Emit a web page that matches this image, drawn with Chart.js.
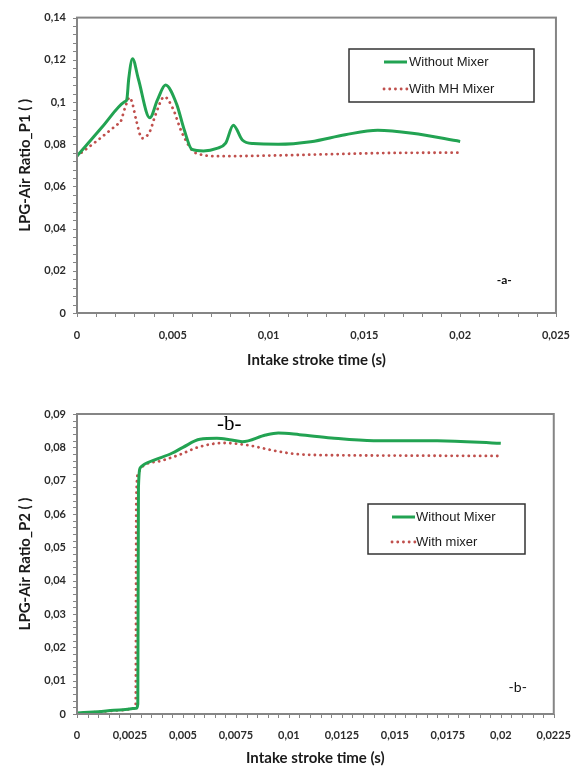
<!DOCTYPE html>
<html><head><meta charset="utf-8">
<script src="https://cdn.jsdelivr.net/npm/chart.js@4.4.1/dist/chart.umd.min.js"></script>
<style>
html,body{margin:0;padding:0;background:#fff;}
body{width:586px;height:771px;position:relative;overflow:hidden;}
canvas{position:absolute;left:0;}
</style></head><body>
<canvas id="c1" width="586" height="380" style="top:0"></canvas>
<canvas id="c2" width="586" height="381" style="top:390px"></canvas>
<script>
// ---------- Data ----------
// Chart a: LPG-Air Ratio_P1
const p1SeriesNames = ['Without Mixer', 'With MH Mixer'];
const p1WithoutTime  = [0, 0.0013, 0.0025, 0.0026, 0.0027, 0.0029, 0.0032, 0.0038, 0.0042, 0.00462, 0.0052, 0.0056, 0.0060, 0.0066, 0.0073, 0.00776, 0.00816, 0.00863, 0.0092, 0.0105, 0.0122, 0.0140, 0.0157, 0.0175, 0.0200];
const p1WithoutRatio = [0.0744, 0.0880, 0.1002, 0.1012, 0.1110, 0.1205, 0.1110, 0.0925, 0.1010, 0.1080, 0.0990, 0.0867, 0.0775, 0.0768, 0.0780, 0.0805, 0.0890, 0.0820, 0.0803, 0.0800, 0.0812, 0.0845, 0.0866, 0.0852, 0.0813];
const p1WithTime  = [0, 0.0011, 0.0021, 0.00227, 0.0025, 0.00275, 0.0029, 0.0031, 0.0034, 0.0038, 0.0041, 0.00456, 0.0050, 0.0055, 0.0062, 0.0075, 0.0100, 0.0130, 0.0160, 0.0200];
const p1WithRatio = [0.0744, 0.0820, 0.0893, 0.0905, 0.0970, 0.1022, 0.0990, 0.0910, 0.0828, 0.0860, 0.0940, 0.1025, 0.0970, 0.0850, 0.0758, 0.0743, 0.0746, 0.0752, 0.0758, 0.0760];
const p1XTicks = [0, 0.005, 0.01, 0.015, 0.02, 0.025];
const p1YTicks = [0, 0.02, 0.04, 0.06, 0.08, 0.1, 0.12, 0.14];

// Chart b: LPG-Air Ratio_P2
const p2SeriesNames = ['Without Mixer', 'With mixer'];
const p2WithoutTime  = [0, 0.0010, 0.0020, 0.0028, 0.00287, 0.0029, 0.0030, 0.0032, 0.0037, 0.0045, 0.0050, 0.0058, 0.0066, 0.0072, 0.0078, 0.0089, 0.0095, 0.0105, 0.0120, 0.0140, 0.0170, 0.0200];
const p2WithoutRatio = [0.0003, 0.0007, 0.0012, 0.0017, 0.0030, 0.0680, 0.0740, 0.0750, 0.0763, 0.0783, 0.0800, 0.0824, 0.0827, 0.0823, 0.0817, 0.0837, 0.0843, 0.0838, 0.0828, 0.0820, 0.0820, 0.0812];
const p2WithTime  = [0, 0.0010, 0.0020, 0.0027, 0.00277, 0.0028, 0.0029, 0.0031, 0.0040, 0.0048, 0.0058, 0.0069, 0.0080, 0.0094, 0.0105, 0.0127, 0.0160, 0.0200];
const p2WithRatio = [0.0002, 0.0006, 0.0011, 0.0016, 0.0030, 0.0650, 0.0725, 0.0743, 0.0760, 0.0777, 0.0802, 0.0813, 0.0807, 0.0789, 0.0779, 0.0776, 0.0775, 0.0774];
const p2XTicks = [0, 0.0025, 0.005, 0.0075, 0.01, 0.0125, 0.015, 0.0175, 0.02, 0.0225];
const p2YTicks = [0, 0.01, 0.02, 0.03, 0.04, 0.05, 0.06, 0.07, 0.08, 0.09];

const xTitle = 'Intake stroke time (s)';
const p1YTitle = 'LPG-Air Ratio_P1 ( )';
const p2YTitle = 'LPG-Air Ratio_P2 ( )';

// ---------- Helpers ----------
const GREEN = '#22a352';
const RED = '#c0504d';
const AXIS = '#858585';
const fmt = v => parseFloat(Number(v).toFixed(6)).toString().replace('.', ',');
const pts = (xs, ys) => xs.map((x, i) => ({x, y: ys[i]}));

function greenSet(label, data) {
  return {label, data, borderColor: GREEN, borderWidth: 3, pointRadius: 0,
    borderJoinStyle: 'round', cubicInterpolationMode: 'monotone', fill: false};
}
function redSet(label, data) {
  return {label, data, borderColor: RED, borderWidth: 2.8, pointRadius: 0,
    borderDash: [0.1, 5.6], borderCapStyle: 'round',
    cubicInterpolationMode: 'monotone', fill: false};
}

const framePlugin = {
  id: 'frameTicks',
  afterDraw(chart, args, o) {
    const {ctx, chartArea: a, scales: {x, y}} = chart;
    ctx.save();
    // minor + major ticks
    ctx.strokeStyle = AXIS; ctx.lineWidth = 1;
    ctx.beginPath();
    const nx = Math.round((x.max - x.min) / o.xMinor);
    for (let i = 0; i <= nx; i++) {
      const px = Math.round(x.getPixelForValue(x.min + i * o.xMinor)) + 0.5;
      ctx.moveTo(px, a.bottom); ctx.lineTo(px, a.bottom + 4);
    }
    const ny = Math.round((y.max - y.min) / o.yMinor);
    for (let i = 0; i <= ny; i++) {
      const py = Math.round(y.getPixelForValue(y.min + i * o.yMinor)) + 0.5;
      ctx.moveTo(a.left - 4, py); ctx.lineTo(a.left, py);
    }
    ctx.stroke();
    // frame
    ctx.lineWidth = 2; ctx.strokeStyle = AXIS;
    ctx.strokeRect(a.left, a.top, a.right - a.left, a.bottom - a.top);

    // legend box
    const L = o.legend;
    ctx.lineWidth = 1.5; ctx.strokeStyle = '#333';
    ctx.strokeRect(L.x, L.y, L.w, L.h);
    ctx.font = '13px "Liberation Sans", Arial, sans-serif';
    ctx.textBaseline = 'middle'; ctx.textAlign = 'left';
    chart.data.datasets.forEach((ds, i) => {
      const yy = L.y + L.rowTop + i * L.rowGap;
      ctx.save();
      ctx.strokeStyle = ds.borderColor; ctx.lineWidth = ds.borderWidth;
      ctx.setLineDash(ds.borderDash || []);
      ctx.lineCap = ds.borderCapStyle || 'butt';
      ctx.beginPath(); ctx.moveTo(L.x + L.sx0, yy); ctx.lineTo(L.x + L.sx1, yy); ctx.stroke();
      ctx.restore();
      ctx.fillStyle = '#1a1a1a';
      ctx.fillText(ds.label, L.x + L.tx, yy);
    });

    // annotation texts
    (o.notes || []).forEach(n => {
      ctx.font = n.font; ctx.fillStyle = n.color || '#111';
      ctx.textAlign = 'center'; ctx.textBaseline = 'middle';
      ctx.fillText(n.text, x.getPixelForValue(n.x), y.getPixelForValue(n.y));
    });
    ctx.restore();
  }
};

function makeChart(id, cfg) {
  const tickFont = {family: 'Lato, "Open Sans", sans-serif', size: 11, weight: 'bold'};
  const titleFont = {family: 'Lato, "Open Sans", sans-serif', size: 15, weight: 'bold'};
  return new Chart(document.getElementById(id), {
    type: 'line',
    data: {datasets: cfg.datasets},
    options: {
      responsive: false, animation: false, devicePixelRatio: 1,
      layout: {padding: {left: 0, top: cfg.padTop, right: cfg.padRight, bottom: 0}},
      plugins: {legend: {display: false}, tooltip: {enabled: false}, frameTicks: cfg.frame},
      scales: {
        x: {
          type: 'linear', min: cfg.xTicks[0], max: cfg.xTicks[cfg.xTicks.length - 1],
          afterBuildTicks: s => { s.ticks = cfg.xTicks.map(v => ({value: v})); },
          afterFit: s => { s.height = cfg.xAxisH; },
          grid: {display: false, drawTicks: false},
          border: {display: true, color: AXIS, width: 2},
          ticks: {callback: v => fmt(v), font: tickFont, color: '#2b2b2b', padding: cfg.xTickPad, maxRotation: 0, autoSkip: false},
          title: {display: true, text: xTitle, font: titleFont, color: '#1a1a1a', padding: {top: 0, bottom: cfg.xTitlePad}}
        },
        y: {
          type: 'linear', min: cfg.yTicks[0], max: cfg.yTicks[cfg.yTicks.length - 1],
          afterBuildTicks: s => { s.ticks = cfg.yTicks.map(v => ({value: v})); },
          afterFit: s => { s.width = 77; },
          grid: {display: false, drawTicks: false},
          border: {display: true, color: AXIS, width: 2},
          ticks: {callback: v => fmt(v), font: tickFont, color: '#2b2b2b', padding: 11, autoSkip: false},
          title: {display: true, text: cfg.yTitle, font: titleFont, color: '#1a1a1a', padding: {top: 16, bottom: 0}}
        }
      }
    },
    plugins: [framePlugin]
  });
}

makeChart('c1', {
  datasets: [greenSet(p1SeriesNames[0], pts(p1WithoutTime, p1WithoutRatio)),
             redSet(p1SeriesNames[1], pts(p1WithTime, p1WithRatio))],
  xTicks: p1XTicks, yTicks: p1YTicks, yTitle: p1YTitle,
  padTop: 12, padRight: 27, xAxisH: 67, xTickPad: 16, xTitlePad: 11,
  frame: {xMinor: 0.001, yMinor: 0.004,
    legend: {x: 349, y: 49, w: 185, h: 53, rowTop: 13, rowGap: 27, sx0: 35, sx1: 58, tx: 60},
    notes: [{text: '-a-', x: 0.0223, y: 0.0158, font: 'bold 12px Lato, sans-serif'}]}
});

makeChart('c2', {
  datasets: [greenSet(p2SeriesNames[0], pts(p2WithoutTime, p2WithoutRatio)),
             redSet(p2SeriesNames[1], pts(p2WithTime, p2WithRatio))],
  xTicks: p2XTicks, yTicks: p2YTicks, yTitle: p2YTitle,
  padTop: 24, padRight: 30, xAxisH: 57, xTickPad: 15, xTitlePad: 4,
  frame: {xMinor: 0.0005, yMinor: 0.002,
    legend: {x: 368, y: 114, w: 157, h: 50, rowTop: 13, rowGap: 25, sx0: 24, sx1: 47, tx: 48},
    notes: [{text: '-b-', x: 0.00719, y: 0.087, font: '21px "Liberation Serif", "DejaVu Serif", serif', color: '#000'},
            {text: '-b-', x: 0.0208, y: 0.0081, font: '14px Lato, sans-serif'}]}
});
</script>
</body></html>
